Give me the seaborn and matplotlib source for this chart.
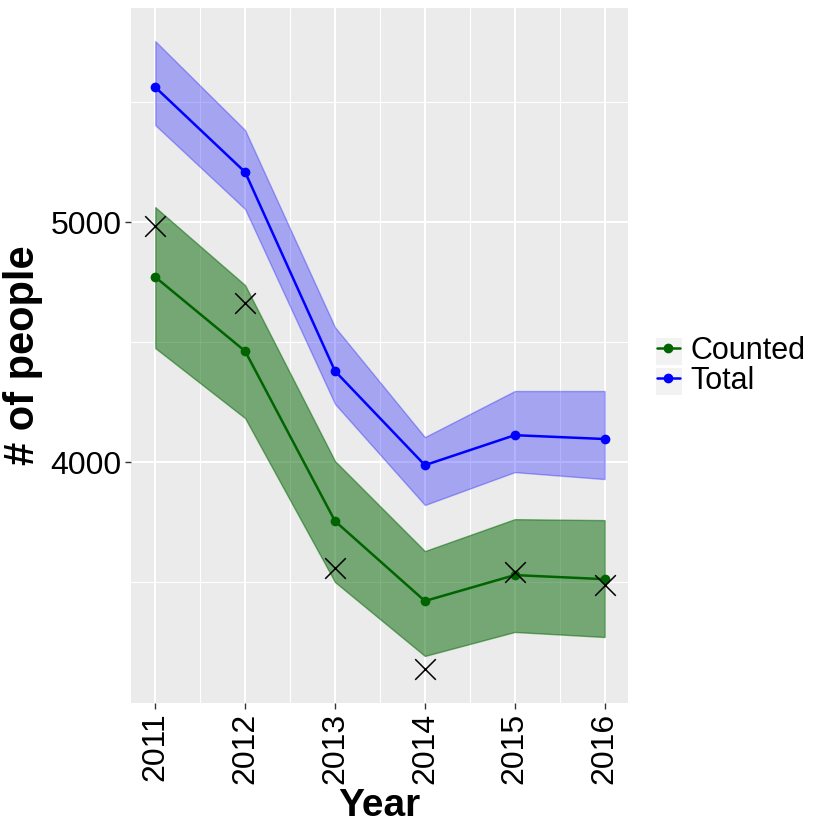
import numpy as np
import pandas as pd
import matplotlib
matplotlib.use("Agg")
import matplotlib.pyplot as plt
import seaborn as sns
from matplotlib.lines import Line2D
from matplotlib.patches import Rectangle
from matplotlib.ticker import FixedLocator

years = [2011, 2012, 2013, 2014, 2015, 2016]
total = [5562, 5208, 4379, 3987, 4112, 4096]
total_lo = [5404, 5054, 4242, 3821, 3958, 3929]
total_hi = [5754, 5383, 4562, 4104, 4296, 4296]
counted = [4771, 4462, 3754, 3421, 3529, 3512]
counted_lo = [4475, 4183, 3500, 3192, 3292, 3271]
counted_hi = [5062, 4737, 4004, 3629, 3762, 3758]
observed = [4983, 4662, 3558, 3137, 3542, 3487]
series_names = ["Counted", "Total"]

sns.set_theme(style="darkgrid")
plt.rcParams['font.family'] = ['Liberation Sans', 'DejaVu Sans']

fig = plt.figure(figsize=(8.3, 8.3), dpi=100)
W, H = 830, 830
ax = fig.add_axes([131 / W, 1 - 703 / H, (628 - 131) / W, (703 - 8) / H])
ax.set_facecolor('#EBEBEB')

df = pd.DataFrame({
    "Year": years * 2,
    "people": counted + total,
    "series": ["Counted"] * 6 + ["Total"] * 6,
})
colors = {"Counted": "#006400", "Total": "#0000FF"}

ax.fill_between(years, total_lo, total_hi, color="#0000FF", alpha=0.3, lw=1.0,
                edgecolor=(0, 0, 1, 0.35), zorder=2)
ax.fill_between(years, counted_lo, counted_hi, color="#006400", alpha=0.5, lw=1.0,
                edgecolor=(0, 0.39, 0, 0.55), zorder=2)

sns.lineplot(data=df, x="Year", y="people", hue="series", palette=colors,
             marker="o", markersize=7, markeredgewidth=0, linewidth=1.8,
             ax=ax, legend=False, zorder=3)
sns.scatterplot(x=years, y=observed, marker="x", s=220, color="black",
                linewidth=1.1, ax=ax, zorder=4)

ax.set_xlim(2010.73, 2016.26)
ax.set_ylim(2996, 5892)
ax.xaxis.set_major_locator(FixedLocator(years))
ax.xaxis.set_minor_locator(FixedLocator([y + 0.5 for y in years[:-1]]))
ax.yaxis.set_major_locator(FixedLocator([4000, 5000]))
ax.yaxis.set_minor_locator(FixedLocator([3500, 4500, 5500]))
ax.grid(which="major", color="white", linewidth=1.5)
ax.grid(which="minor", color="white", linewidth=0.8)
ax.set_axisbelow(True)
for s in ax.spines.values():
    s.set_visible(False)

ax.tick_params(axis="both", which="major", length=4, width=1.0, color="#333333",
               labelsize=23, labelcolor="black", pad=3, bottom=True, left=True)
ax.tick_params(axis="both", which="minor", length=0)
ax.set_xticklabels([str(y) for y in years], rotation=90)
ax.set_xlabel("Year", fontsize=28, fontweight="bold", color="black", labelpad=3)
ax.set_ylabel("# of people", fontsize=30, fontweight="bold", color="black", labelpad=5)

# legend key backgrounds
for top in (338, 368):
    fig.patches.append(Rectangle((656 / W, 1 - (top + 27) / H), 26 / W, 27 / H,
                                 transform=fig.transFigure, facecolor="#F2F2F2",
                                 edgecolor="none", zorder=0))

handles = [Line2D([], [], color=colors[n], marker="o", markersize=6, lw=1.8) for n in series_names]
leg = fig.legend(handles, series_names, loc="center left", bbox_to_anchor=(657 / W, 1 - 366 / H),
                 fontsize=22, frameon=False, handlelength=0.75, handletextpad=0.35,
                 labelspacing=0.0, borderaxespad=0, borderpad=0, labelcolor="black")

fig.savefig("out.png", dpi=100)
